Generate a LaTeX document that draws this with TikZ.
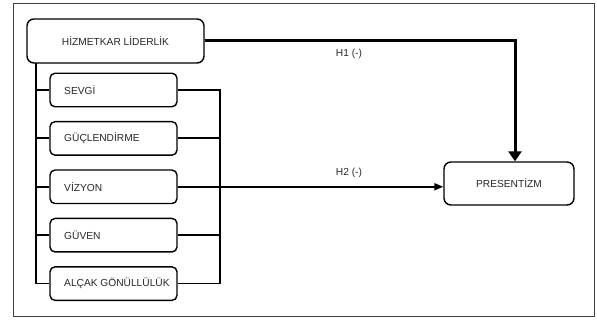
\documentclass[tikz,border=0pt]{standalone}
\usepackage{fontspec}
\setmainfont{Liberation Sans}
\usetikzlibrary{arrows.meta}
\begin{document}
\begin{tikzpicture}[x=1pt,y=-1pt,
  txt/.style={font=\fontsize{10.2}{12}\selectfont,text=black!85},
  bigbox/.style={txt,draw=black,line width=1.4pt,rounded corners=7pt,minimum width=177pt,minimum height=44pt,inner sep=0pt},
  dimbox/.style={draw=black,line width=1.4pt,rounded corners=5pt,minimum width=127pt,minimum height=33.5pt,inner sep=0pt},
  dimtext/.style={txt,anchor=west,inner sep=0pt},
  outbox/.style={txt,draw=black,line width=1.4pt,rounded corners=7pt,minimum width=130pt,minimum height=43pt,inner sep=0pt},
  conn/.style={line width=1.8pt,line cap=butt},
  lbl/.style={txt,inner sep=0pt}]
\useasboundingbox (0,0) rectangle (597,320);
\draw[black!75,line width=0.9pt] (13,3) rectangle (594,316);

\node[bigbox] (hl) at (115.5,41) {HİZMETKAR LİDERLİK};
\node[dimbox] (d1) at (113.5,90) {};
\node[dimbox] (d2) at (113.5,138.4) {};
\node[dimbox] (d3) at (113.5,186.8) {};
\node[dimbox] (d4) at (113.5,235.2) {};
\node[dimbox] (d5) at (113.5,283.6) {};
\node[dimtext] (t1) at (64,90) {SEVGİ};
\node[dimtext] (t2) at (64,138.4) {GÜÇLENDİRME};
\node[dimtext] (t3) at (64,186.8) {VİZYON};
\node[dimtext] (t4) at (64,235.2) {GÜVEN};
\node[dimtext] (t5) at (64,283.6) {ALÇAK GÖNÜLLÜLÜK};
\node[outbox] (pr) at (509,183.5) {PRESENTİZM};

% left bus
\coordinate (lb) at (36,63);
\draw[conn] (lb) -- (lb |- d5.west) -- (d5.west);
\foreach \i in {1,2,3,4}{\draw[conn] (lb |- d\i.west) -- (d\i.west);}

% right bus
\coordinate (rb) at (220,90);
\draw[conn] (d1.east) -- (rb |- d1.east) -- (rb |- d5.east) -- (d5.east);
\foreach \i in {2,3,4}{\draw[conn] (d\i.east) -- (rb |- d\i.east);}

% H2
\draw[conn,-{Triangle[length=9pt,width=7pt]}] (d3.east) -- (d3.east -| pr.west);
\node[lbl] (h2) at (349,173) {H2 (-)};

% H1
\coordinate (hc) at (515,41);
\draw[line width=3pt,-{Triangle[length=10pt,width=13pt]}] (hl.east) -- (hc) -- (hc |- pr.north);
\node[lbl] (h1) at (349,54) {H1 (-)};
\end{tikzpicture}
\end{document}
